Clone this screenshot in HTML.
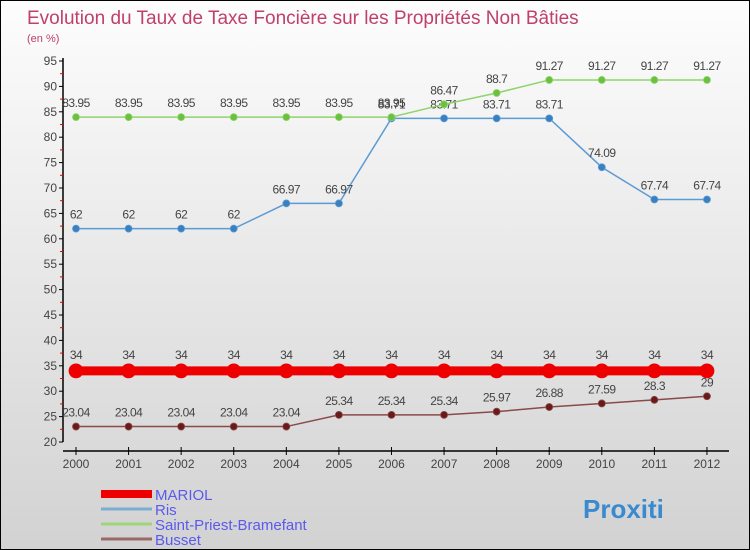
<!DOCTYPE html>
<html><head><meta charset="utf-8"><style>
body{margin:0}
#c{width:750px;height:550px;position:relative;overflow:hidden;background:linear-gradient(#fdfdfd,#d2d2d2);box-sizing:border-box;border:1px solid #000;font-family:"Liberation Sans",sans-serif}
text{font-family:"Liberation Sans",sans-serif}
</style></head><body>
<div id="c">
<svg id="s" width="750" height="550">
<text x="26" y="23" font-size="19" fill="#c0406a">Evolution du Taux de Taxe Foncière sur les Propriétés Non Bâties</text>
<text x="26" y="41" font-size="11" fill="#c0406a">(en %)</text>
</svg>
</div>
<script>
const years=[2000,2001,2002,2003,2004,2005,2006,2007,2008,2009,2010,2011,2012];
const mariol=[34,34,34,34,34,34,34,34,34,34,34,34,34];
const ris=[62,62,62,62,66.97,66.97,83.71,83.71,83.71,83.71,74.09,67.74,67.74];
const spb=[83.95,83.95,83.95,83.95,83.95,83.95,83.95,86.47,88.7,91.27,91.27,91.27,91.27];
const busset=[23.04,23.04,23.04,23.04,23.04,25.34,25.34,25.34,25.97,26.88,27.59,28.3,29];
const yTicks=[20,25,30,35,40,45,50,55,60,65,70,75,80,85,90,95];
const names=["MARIOL","Ris","Saint-Priest-Bramefant","Busset"];
const svg=document.getElementById('s');const NS='http://www.w3.org/2000/svg';
const X=i=>75+i*52.58, Y=v=>441-(v-20)*5.08;
function mk(t,a,p){const e=document.createElementNS(NS,t);for(const k in a)e.setAttribute(k,a[k]);(p||svg).appendChild(e);return e;}
let ax=mk('line',{x1:62,y1:57,x2:62,y2:441,stroke:'#000','stroke-width':1.5});


yTicks.forEach(v=>{mk('line',{x1:58,y1:Y(v),x2:62,y2:Y(v),stroke:'#000'});
let t=mk('text',{x:56,y:Y(v)+4,'text-anchor':'end','font-size':12,fill:'#444'});t.textContent=v;


if(v<95)mk('line',{x1:59,y1:Y(v+2.5),x2:62,y2:Y(v+2.5),stroke:'#e00'});});
let xa=mk('line',{x1:62,y1:450,x2:728,y2:450,stroke:'#000','stroke-width':1.5});


years.forEach((y,i)=>{mk('line',{x1:X(i),y1:446,x2:X(i),y2:454,stroke:'#000'});
let t=mk('text',{x:X(i),y:467,'text-anchor':'middle','font-size':12,fill:'#444'});t.textContent=y;

});
function series(d,col,dot,w,r,nm,lab){
const g=mk('g',{});


mk('polyline',{points:d.map((v,i)=>X(i)+','+Y(v)).join(' '),fill:'none',stroke:col,'stroke-width':w},g);
d.forEach((v,i)=>{const c=mk('circle',{cx:X(i),cy:Y(v),r:r,fill:dot,stroke:col,'stroke-width':0.8},g);


const t=mk('text',{x:X(i),y:Y(v)-10+lab,'text-anchor':'middle','font-size':12,fill:'#444','letter-spacing':'-0.5'},g);t.textContent=v;

});}
series(busset,'#8a4a4a','#6a1a1a',1.5,3.5,'busset',0);
series(ris,'#5b9bd5','#3a7fc0',1.5,3.5,'ris',0);
series(spb,'#8fd46a','#6cc040',1.5,3.5,'saint-priest',0);
series(mariol,'#ee0000','#ee0000',9,7,'mariol',-2);
const lc=['#ee0000','#7aaed5','#9ed47a','#9a6a6a'],lw=[8,3,3,3];
names.forEach((n,i)=>{const y=493+i*15;
const l=mk('line',{x1:100,y1:y,x2:151,y2:y,stroke:lc[i],'stroke-width':lw[i]});


const t=mk('text',{x:154,y:y+6,'font-size':15,fill:'#5a5aee'});t.textContent=n;

});
const b=mk('text',{x:582,y:517,'font-size':26,'font-weight':'bold',fill:'#3a8ad0'});b.textContent='Proxiti';


</script>
</body></html>
